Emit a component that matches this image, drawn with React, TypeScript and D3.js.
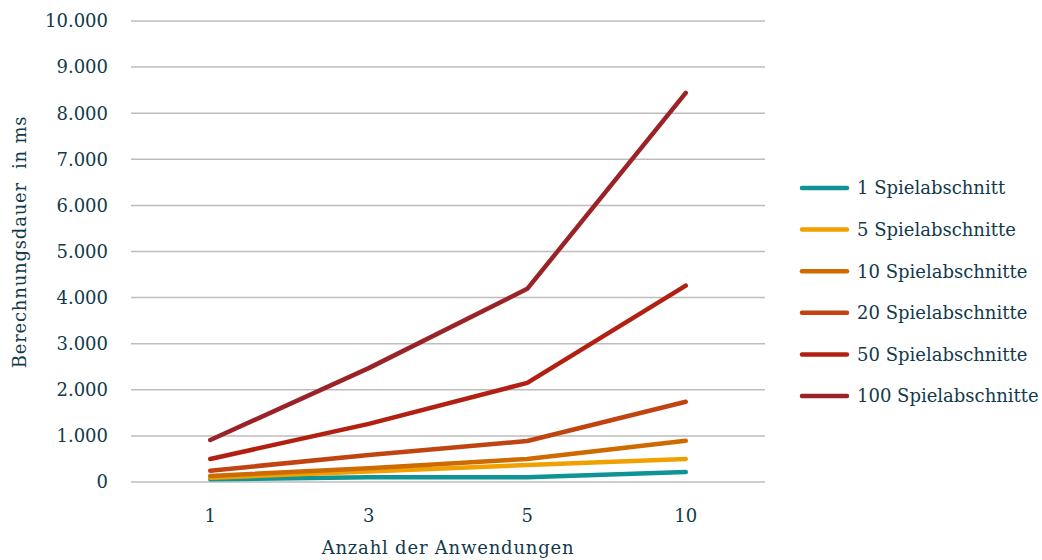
import React from "react";
import * as d3 from "d3";

const categories = ["1", "3", "5", "10"];
const seriesNames = ["1 Spielabschnitt", "5 Spielabschnitte", "10 Spielabschnitte", "20 Spielabschnitte", "50 Spielabschnitte", "100 Spielabschnitte"];
const s1 = [60, 105, 105, 215];
const s5 = [90, 230, 370, 500];
const s10 = [130, 300, 500, 895];
const s20 = [245, 585, 890, 1740];
const s50 = [500, 1260, 2150, 4260];
const s100 = [911, 2470, 4190, 8440];
const seriesValues = [s1, s5, s10, s20, s50, s100];
const colors = ["#0f9496", "#f0a000", "#cd6a00", "#c0440f", "#b22012", "#9b2328"];
const yTicks = [0, 1000, 2000, 3000, 4000, 5000, 6000, 7000, 8000, 9000, 10000];

const W = 1042, H = 560;
const left = 131, right = 765, top = 21, bottom = 482;
const textColor = "#123a4a";
const font = "'DejaVu Serif', serif";
const fs = 18;

export default function App() {
  const x = d3.scaleBand<string>().domain(categories).range([left, right]);
  const y = d3.scaleLinear().domain([0, 10000]).range([bottom, top]);
  const fmt = (v: number) => d3.format(",")(v).replace(/,/g, ".");
  const line = d3.line<number>()
    .x((_, i) => (x(categories[i]) as number) + x.bandwidth() / 2)
    .y((d) => y(d));
  return (
    <svg width={W} height={H} style={{ position: "absolute", left: 0, top: 0 }} fontFamily={font}>
      {yTicks.map((t) => (
        <g key={t}>
          <line x1={left} x2={right} y1={y(t)} y2={y(t)} stroke="#bdbdbd" strokeWidth={1.5} />
          <text x={108} y={y(t)} dy="0.35em" textAnchor="end" fontSize={fs} fill={textColor}>{fmt(t)}</text>
        </g>
      ))}
      {categories.map((c) => (
        <text key={c} x={(x(c) as number) + x.bandwidth() / 2} y={516} dy="0.35em" textAnchor="middle" fontSize={fs} fill={textColor}>{c}</text>
      ))}
      {seriesValues.map((vals, i) => (
        <path key={i} d={line(vals) || ""} fill="none" stroke={colors[i]} strokeWidth={4.5} strokeLinecap="round" strokeLinejoin="round" />
      ))}
      <text x={448} y={548} dy="0.35em" textAnchor="middle" fontSize={fs} fill={textColor} letterSpacing={0.8}>Anzahl der Anwendungen</text>
      <text transform={`translate(20,${242}) rotate(-90)`} dy="0.35em" textAnchor="middle" fontSize={fs} fill={textColor} letterSpacing={0.8} style={{ whiteSpace: "pre" }}>Berechnungsdauer  in ms</text>
      {seriesNames.map((n, i) => {
        const ly = 188 + i * 41.6;
        return (
          <g key={n}>
            <line x1={802} x2={847} y1={ly} y2={ly} stroke={colors[i]} strokeWidth={4.5} strokeLinecap="round" />
            <text x={857} y={ly} dy="0.35em" fontSize={fs} fill={textColor}>{n}</text>
          </g>
        );
      })}
    </svg>
  );
}
